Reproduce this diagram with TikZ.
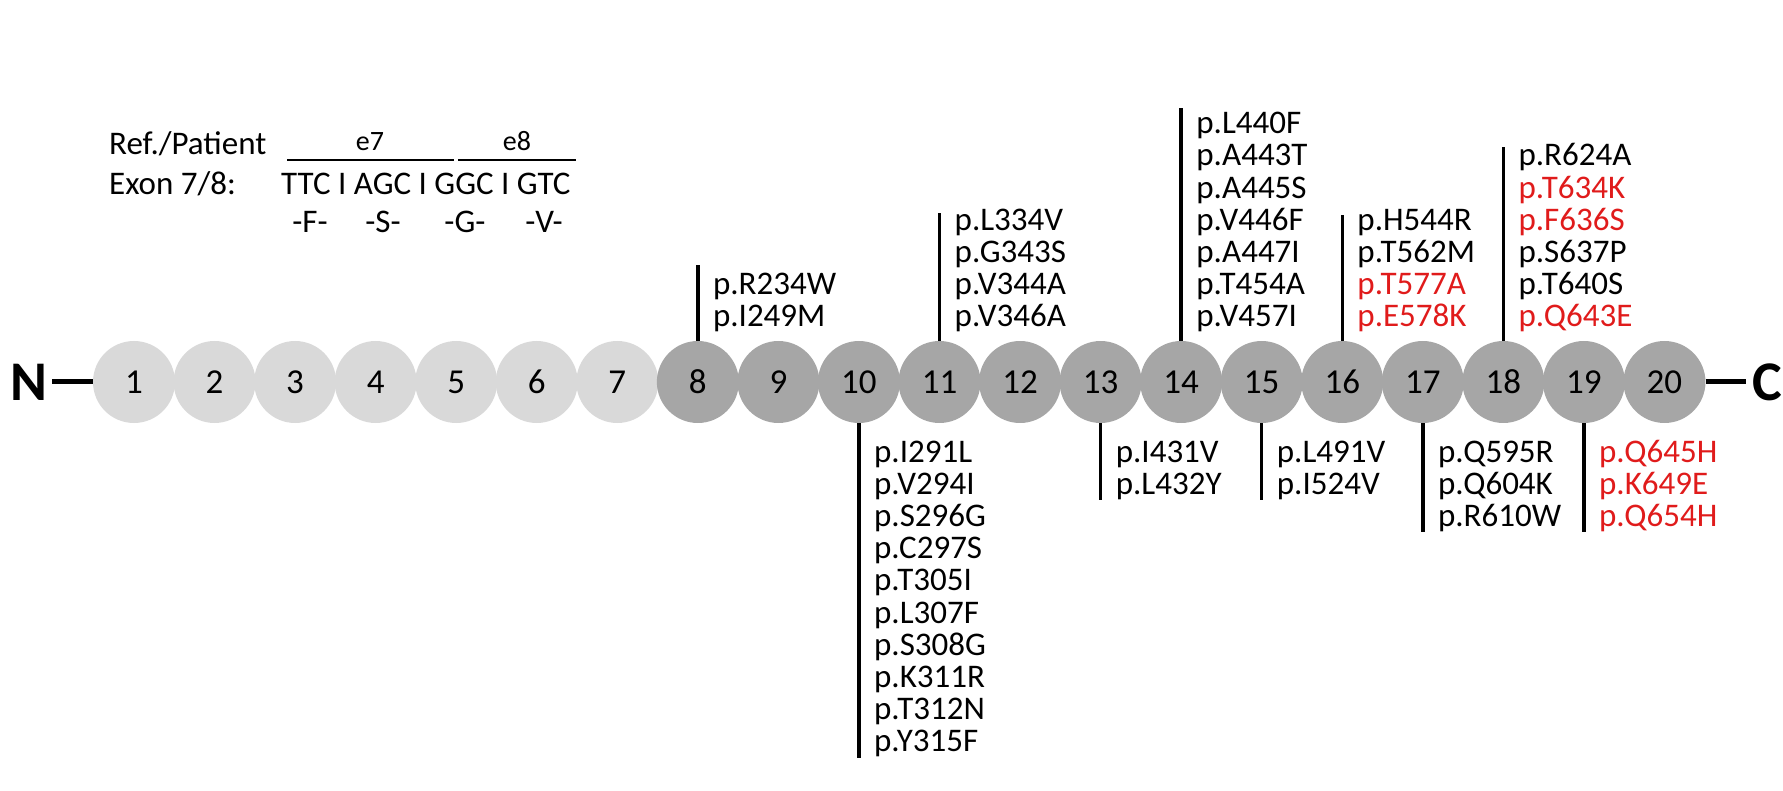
\documentclass[tikz,border=0pt]{standalone}
\usepackage{fontspec}
\setmainfont{Carlito}
\usetikzlibrary{calc}
\definecolor{lightg}{HTML}{D9D9D9}
\definecolor{darkg}{HTML}{A6A6A6}
\definecolor{mutred}{HTML}{E01B1B}
\tikzset{
  dom/.style={circle,minimum size=82pt,inner sep=0pt,font=\fontsize{35}{36}\selectfont},
  muttext/.style={anchor=base west,inner sep=0pt,font=\fontsize{33}{34}\selectfont},
  hdr/.style={anchor=base west,inner sep=0pt,font=\fontsize{33}{34}\selectfont},
  hdrc/.style={anchor=base,inner sep=0pt,font=\fontsize{33}{34}\selectfont},
  lbl/.style={anchor=base,inner sep=0pt,font=\fontsize{28}{30}\selectfont},
  stick/.style={line width=3.5pt},
  term/.style={font=\fontsize{56}{60}\selectfont\bfseries,inner sep=0pt,anchor=base west},
}
\begin{document}
\begin{tikzpicture}[x=1pt,y=1pt]
\useasboundingbox (0,0) rectangle (1783,-791);
% domains
\foreach \i in {1,...,20}{
  \pgfmathsetmacro{\cx}{134+80.55*(\i-1)}
  \ifnum\i<8 \def\fc{lightg}\else\def\fc{darkg}\fi
  \node[dom,fill=\fc] (d\i) at (\cx,-382) {\i};
}
% termini
\node[term] (N) at (10,-400) {N};
\node[term] (C) at (1752,-400) {C};
\coordinate (na) at (0,-382);
\draw[line width=5pt] (N.east|-na) ++(5pt,0) -- (d1.west);
\draw[line width=5pt] (d20.east) -- ($(C.west|-na)+(-6pt,0)$);
% top sticks and labels
\foreach \d/\t/\items in {
  8/265/{black/R234W,black/I249M},
  11/213/{black/L334V,black/G343S,black/V344A,black/V346A},
  14/108/{black/L440F,black/A443T,black/A445S,black/V446F,black/A447I,black/T454A,black/V457I},
  16/215/{black/H544R,black/T562M,mutred/T577A,mutred/E578K},
  18/147/{black/R624A,mutred/T634K,mutred/F636S,black/S637P,black/T640S,mutred/Q643E}}{
  \coordinate (t\d) at (d\d.north|-0,-\t);
  \draw[stick] (d\d.north) -- (t\d);
  \foreach \c/\m [count=\k] in \items { \xdef\nitems{\k} }
  \pgfmathsetmacro{\tx}{134+80.55*(\d-1)+15}
  \foreach \c/\m [count=\k] in \items {
    \pgfmathsetmacro{\by}{-327+(\nitems-\k)*32.2}
    \node[muttext,text=\c] (m\d-\k) at (\tx,\by) {p.\m};
  }
}
% bottom sticks and labels
\foreach \d/\t/\items in {
  10/758/{black/I291L,black/V294I,black/S296G,black/C297S,black/T305I,black/L307F,black/S308G,black/K311R,black/T312N,black/Y315F},
  13/500/{black/I431V,black/L432Y},
  15/500/{black/L491V,black/I524V},
  17/532/{black/Q595R,black/Q604K,black/R610W},
  19/532/{mutred/Q645H,mutred/K649E,mutred/Q654H}}{
  \coordinate (b\d) at (d\d.south|-0,-\t);
  \draw[stick] (d\d.south) -- (b\d);
  \pgfmathsetmacro{\tx}{134+80.55*(\d-1)+15}
  \foreach \c/\m [count=\k] in \items {
    \pgfmathsetmacro{\by}{-462-(\k-1)*32.2}
    \node[muttext,text=\c] (n\d-\k) at (\tx,\by) {p.\m};
  }
}
% header
\node[hdr] (ref) at (109,-155) {Ref./Patient};
\node[hdr] (exon) at (109,-195) {Exon 7/8:};
\node[hdr] (seq) at (281,-195) {TTC I AGC I GGC I GTC};
\coordinate (e7a) at (287,-160); \coordinate (e7b) at (454,-160);
\coordinate (e8a) at (458,-160); \coordinate (e8b) at (576,-160);
\draw[line width=1.8pt] (e7a) -- (e7b);
\draw[line width=1.8pt] (e8a) -- (e8b);
\node[lbl] (e7) at (370,-151) {e7};
\node[lbl] (e8) at (517,-151) {e8};
\node[hdrc] (aF) at (310,-233) {-F-};
\node[hdrc] (aS) at (383,-233) {-S-};
\node[hdrc] (aG) at (465,-233) {-G-};
\node[hdrc] (aV) at (544,-233) {-V-};
\end{tikzpicture}
\end{document}
